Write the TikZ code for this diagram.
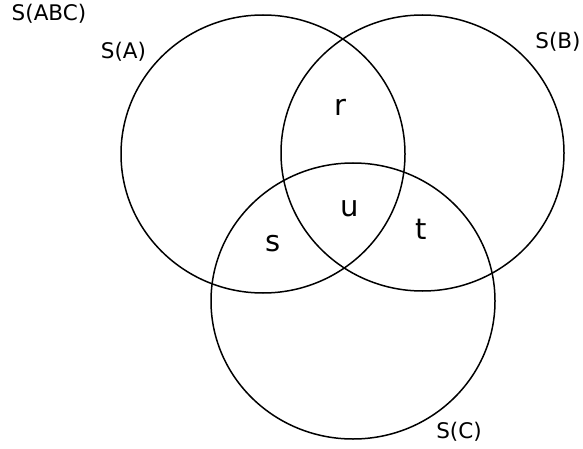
\documentclass[tikz,border=0pt]{standalone}
\usepackage{fontspec}
\setmainfont{DejaVu Sans}
\begin{document}
\begin{tikzpicture}[x=1pt,y=-1pt,
  ring/.style={draw=black,line width=1.5pt},
  setlabel/.style={font=\fontsize{21.5}{24}\selectfont,inner sep=0pt},
  region/.style={font=\fontsize{29}{32}\selectfont,inner sep=0pt}]
\useasboundingbox (0,0) rectangle (583,449);
\draw[ring] (263,154) ellipse [x radius=142, y radius=139];
\draw[ring] (422.5,153) ellipse [x radius=141.5, y radius=138];
\draw[ring] (353,301) ellipse [x radius=142, y radius=138];
\node[setlabel] (abc) at (49,14) {S(ABC)};
\node[setlabel] (la) at (123.5,52) {S(A)};
\node[setlabel] (lb) at (558,42) {S(B)};
\node[setlabel] (lc) at (459,432) {S(C)};
\node[region] (r) at (340,107) {r};
\node[region] (u) at (350,209) {u};
\node[region] (s) at (273,244) {s};
\node[region] (t) at (421,229) {t};
\end{tikzpicture}
\end{document}
